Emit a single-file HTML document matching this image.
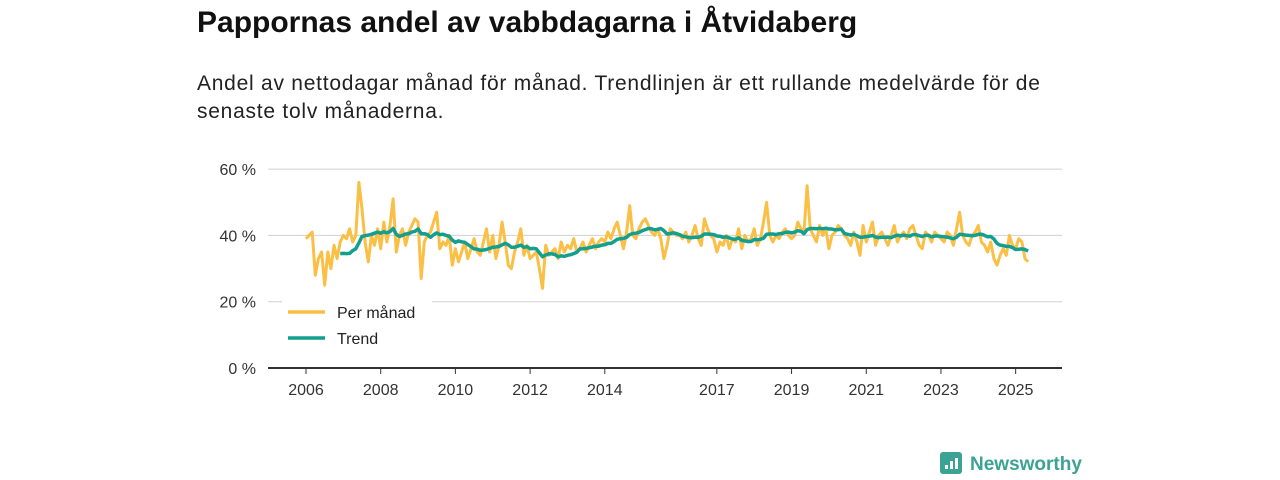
<!DOCTYPE html>
<html><head><meta charset="utf-8"><style>
body{margin:0;width:1280px;height:480px;background:#fff;font-family:"Liberation Sans","DejaVu Sans",sans-serif;color:#111;overflow:hidden;position:relative}
h1{position:absolute;left:197px;top:6px;margin:0;font-size:30px;font-weight:bold}
p{position:absolute;left:197px;top:70px;margin:0;font-size:21px;line-height:28px;width:870px;color:#222;letter-spacing:0.75px}
svg{position:absolute;left:0;top:0}
</style></head><body>
<h1>Pappornas andel av vabbdagarna i Åtvidaberg</h1>
<p>Andel av nettodagar månad för månad. Trendlinjen är ett rullande medelvärde för de<br>senaste tolv månaderna.</p>
<svg id="c" width="1280" height="480"></svg>
<script>
const yTicks=[0,20,40,60];
const yTickLabels=["0 %","20 %","40 %","60 %"];
const xTicks=[2006,2008,2010,2012,2014,2017,2019,2021,2023,2025];
const startYear=2006;
const perMonth=[
39,40,41,28,33,35,25,35,30,37,33,38,
40,39,42,38,40,56,48,38,32,40,37,42,
36,44,38,43,51,35,40,42,37,41,43,45,
44,27,38,40,41,44,47,36,38,37,40,31,
36,32,35,38,33,36,39,35,34,38,42,35,
40,33,37,44,38,31,30,35,38,42,34,37,
33,34,35,30,24,37,34,35,36,33,38,35,
37,36,39,35,36,38,35,37,39,36,38,39,
38,41,39,42,44,40,36,41,49,40,39,42,
44,45,43,41,40,42,39,33,37,42,41,40,
40,39,41,38,40,43,39,37,45,42,40,39,
35,38,37,40,36,39,38,42,36,40,38,39,
42,37,39,44,50,40,38,40,39,41,42,40,
39,40,44,42,41,55,42,40,38,43,40,42,
36,40,41,43,42,40,39,37,41,38,34,43,
38,41,44,37,40,41,39,37,40,43,38,40,
41,39,42,43,40,37,36,41,40,38,41,40,
39,38,41,40,37,42,47,40,38,37,40,41,
43,38,37,35,38,33,31,34,36,34,40,37,
36,39,38,33,32];
const NS="http://www.w3.org/2000/svg";
const svg=document.getElementById('c');
const X=t=>306+(t-startYear)*37.35;
const Y=v=>368-v*3.315;
function mk(tag,at){const e=document.createElementNS(NS,tag);for(const k in at)e.setAttribute(k,at[k]);svg.appendChild(e);return e;}
yTicks.forEach((v,i)=>{
 if(v>0){const g=mk('line',{x1:268,x2:1062,y1:Y(v),y2:Y(v),stroke:'#d0d0d0','stroke-width':1});
 
 }
 const t=mk('text',{x:256,y:Y(v)+6,'text-anchor':'end','font-size':16,fill:'#333'});t.textContent=yTickLabels[i];
 
 
});
const ax=mk('line',{x1:268,x2:1062,y1:368,y2:368,stroke:'#333','stroke-width':2});


xTicks.forEach(yr=>{
 const tk=mk('line',{x1:X(yr),x2:X(yr),y1:368,y2:374,stroke:'#333','stroke-width':1});
 
 
 const t=mk('text',{x:X(yr),y:395,'text-anchor':'middle','font-size':16,fill:'#333'});t.textContent=yr;
 
 
});
const pts=perMonth.map((v,i)=>X(startYear+i/12).toFixed(1)+','+Y(v).toFixed(1)).join(' ');
const l1=mk('polyline',{points:pts,fill:'none',stroke:'#fbbf45','stroke-width':3,'stroke-linejoin':'round'});


const tr=[];
for(let i=11;i<perMonth.length;i++){let s=0;for(let j=i-11;j<=i;j++)s+=perMonth[j];tr.push(X(startYear+i/12).toFixed(1)+','+Y(s/12).toFixed(1));}
const l2=mk('polyline',{points:tr.join(' '),fill:'none',stroke:'#139e8d','stroke-width':3.5,'stroke-linejoin':'round'});


const lg=[["Per månad","#fbbf45",312],["Trend","#139e8d",338]];
lg.forEach(([n,c,y])=>{
 const bg=mk('rect',{x:282,y:y-12,width:150,height:24,fill:'#fff'});
 
 
 const l=mk('line',{x1:288,x2:325,y1:y,y2:y,stroke:c,'stroke-width':3.5});
 
 
 const t=mk('text',{x:337,y:y+6,'font-size':16,fill:'#222'});t.textContent=n;
 
 
});
const ic=mk('rect',{x:940,y:452,width:22,height:22,rx:3,fill:'#3aa394'});


[[945,465,4],[950,461,8],[955,458,11]].forEach(([x,y,h])=>{const b=mk('rect',{x:x,y:y,width:3,height:h,fill:'#fff'});
 
 });
const lt=mk('text',{x:970,y:470,'font-size':19,'font-weight':'bold',fill:'#3aa394'});lt.textContent="Newsworthy";


</script>
</body></html>
